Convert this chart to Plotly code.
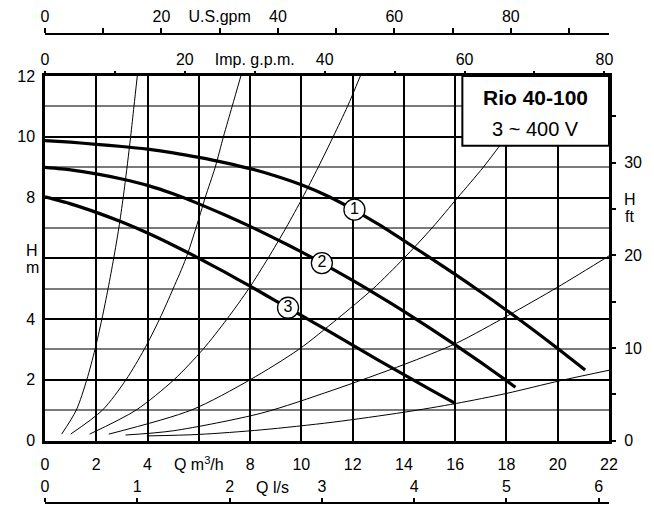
import plotly.graph_objects as go

# ---------------- data ----------------
# pump curves: Q [m3/h] , H [m]
q_curve1 = [0, 1, 2, 3, 4, 5, 6, 7, 8, 9, 10, 11, 12, 13, 14, 15, 16, 17, 18, 19, 20, 21.07]
h_curve1 = [9.87, 9.82, 9.75, 9.68, 9.59, 9.47, 9.32, 9.15, 8.95, 8.71, 8.42, 8.06, 7.62, 7.12,
            6.58, 6.03, 5.47, 4.89, 4.29, 3.67, 3.03, 2.32]
q_curve2 = [0, 1, 2, 3, 4, 5, 6, 7, 8, 9, 10, 11, 12, 13, 14, 15, 16, 17, 18, 18.35]
h_curve2 = [8.99, 8.91, 8.78, 8.61, 8.40, 8.12, 7.79, 7.43, 7.05, 6.64, 6.21, 5.75, 5.27, 4.77,
            4.25, 3.71, 3.15, 2.57, 1.97, 1.75]
q_curve3 = [0, 1, 2, 3, 4, 5, 6, 7, 8, 9, 10, 11, 12, 13, 14, 15, 16]
h_curve3 = [8.02, 7.79, 7.51, 7.19, 6.83, 6.43, 6.0, 5.55, 5.08, 4.6, 4.12, 3.63, 3.14, 2.65,
            2.17, 1.69, 1.22]

# system (resistance) curves
q_sysA = [0.65, 1.22, 1.63, 1.95, 2.22, 2.46, 2.68, 2.88, 3.05, 3.2, 3.34, 3.47, 3.6]
h_sysA = [0.21, 1, 2, 3, 4, 5, 6, 7, 8, 9, 10, 11, 12]
q_sysB = [1.0, 2.24, 3.16, 3.87, 4.47, 5.0, 5.5, 5.89, 6.25, 6.64, 6.96, 7.3, 7.64]
h_sysB = [0.21, 1, 2, 3, 4, 5, 6, 7, 8, 9, 10, 11, 12]
q_sysC = [1.74, 3.55, 5.03, 6.16, 7.1, 7.95, 8.7, 9.4, 10.05, 10.66, 11.24, 11.8, 12.3]
h_sysC = [0.21, 1, 2, 3, 4, 5, 6, 7, 8, 9, 10, 11, 12]
q_sysD = [2.49, 5.7, 8.0, 9.9, 11.4, 12.8, 14.0, 15.1, 16.1, 17.1, 18.0, 18.9, 19.8]
h_sysD = [0.21, 1, 2, 3, 4, 5, 6, 7, 8, 9, 10, 11, 12]
q_sysE = [3.14, 5.0, 8.44, 11.2, 14.0, 16.04, 18.07, 20.0, 22.1]
h_sysE = [0.18, 0.32, 0.9, 1.65, 2.5, 3.2, 4.12, 5.05, 6.13]
q_sysF = [3.97, 6.0, 8.44, 11.2, 14.0, 16.04, 18.0, 20.1, 22.1]
h_sysF = [0.15, 0.2, 0.35, 0.6, 0.93, 1.22, 1.55, 1.97, 2.33]

# curve number labels
label_text = ["1", "2", "3"]
label_q = [12.07, 10.8, 9.48]
label_h = [7.6, 5.84, 4.37]

# axis ticks
x_tickvals = [0, 2, 4, 6, 8, 10, 12, 14, 16, 18, 20, 22]
x_ticktext = ["0", "2", "4", "Q m<sup>3</sup>/h", "8", "10", "12", "14", "16", "18", "20", "22"]
y_tickvals = [0, 2, 4, 6, 8, 10, 12]
y_ticktext = ["0", "2", "4", "", "8", "10", "12"]
ft_tickvals = [0, 5, 10, 15, 20, 25, 30, 35]
ft_ticktext = ["0", "", "10", "", "20", "", "30", ""]
imp_tickvals = [0, 10, 20, 30, 40, 50, 60, 70, 80]
imp_ticktext = ["0", "", "20", "Imp. g.p.m.", "40", "", "60", "", "80"]
us_tickvals = [0, 10, 20, 30, 40, 50, 60, 70, 80, 90]
us_ticktext = ["0", "", "20", "U.S.gpm", "40", "", "60", "", "80", ""]
ls_tickvals = [0, 1, 2, 3, 4, 5, 6]
ls_ticktext = ["0", "1", "2", "3", "4", "5", "6"]

title_main = "Rio 40-100"
title_sub = "3 ~ 400 V"

# unit conversions
Q_MAX = 22.0
H_MAX = 12.0
IMP_PER_M3H = 1 / 0.272765
US_PER_M3H = 1 / 0.227125
LS_PER_M3H = 1 / 3.6
FT_PER_M = 1 / 0.3048

FONT = "Liberation Sans, Arial, Helvetica, sans-serif"

fig = go.Figure()

sys_curves = [(q_sysA, h_sysA), (q_sysB, h_sysB), (q_sysC, h_sysC),
              (q_sysD, h_sysD), (q_sysE, h_sysE), (q_sysF, h_sysF)]
for qs, hs in sys_curves:
    fig.add_trace(go.Scatter(x=qs, y=hs, mode="lines",
                             line=dict(color="black", width=1, shape="spline", smoothing=0.8),
                             hoverinfo="skip"))

for qs, hs in [(q_curve1, h_curve1), (q_curve2, h_curve2), (q_curve3, h_curve3)]:
    fig.add_trace(go.Scatter(x=qs, y=hs, mode="lines",
                             line=dict(color="black", width=3.2, shape="spline", smoothing=0.6),
                             hoverinfo="skip"))

fig.add_trace(go.Scatter(x=label_q, y=label_h, mode="markers+text", text=label_text,
                         textposition="middle center",
                         textfont=dict(family=FONT, size=16, color="black"),
                         marker=dict(size=21, color="white", line=dict(color="black", width=1.3)),
                         hoverinfo="skip"))

# invisible traces so the secondary axes are drawn
fig.add_trace(go.Scatter(x=[0], y=[0], xaxis="x2", yaxis="y2", mode="markers",
                         marker=dict(opacity=0), hoverinfo="skip"))
fig.add_trace(go.Scatter(x=[0], y=[0], xaxis="x3", yaxis="y", mode="markers",
                         marker=dict(opacity=0), hoverinfo="skip"))
fig.add_trace(go.Scatter(x=[0], y=[0], xaxis="x4", yaxis="y", mode="markers",
                         marker=dict(opacity=0), hoverinfo="skip"))

# page geometry: the figure sits 8 px from the page corner (body margin)
FIG_W, FIG_H = 646, 497
PLOT_L, PLOT_R = 37, 601
TOP_LINE, BOT_LINE = 26, 495
PLOT_TOP, PLOT_BOT = 68, 432.5
PH = BOT_LINE - TOP_LINE
y_dom = [(BOT_LINE - PLOT_BOT) / PH, (BOT_LINE - PLOT_TOP) / PH]

tickfont = dict(family=FONT, size=16, color="black")

fig.update_layout(
    width=FIG_W, height=FIG_H,
    margin=dict(l=PLOT_L, r=FIG_W - PLOT_R, t=TOP_LINE, b=FIG_H - BOT_LINE, pad=0, autoexpand=False),
    plot_bgcolor="white", paper_bgcolor="white",
    showlegend=False,
    font=dict(family=FONT, size=16, color="black"),
    xaxis=dict(range=[0, Q_MAX], domain=[0, 1], anchor="y", automargin=False,
               tickvals=x_tickvals, ticktext=x_ticktext, tickfont=tickfont,
               ticks="", ticklabelstandoff=8,
               showgrid=True, gridcolor="black", gridwidth=1.6,
               showline=True, linecolor="black", linewidth=2.5, mirror=True,
               zeroline=False, fixedrange=True),
    yaxis=dict(range=[0, H_MAX], domain=y_dom, anchor="x", automargin=False,
               tickvals=y_tickvals, ticktext=y_ticktext, tickfont=tickfont,
               ticks="", ticklabelstandoff=4,
               showgrid=True, gridcolor="black", gridwidth=1.6,
               minor=dict(dtick=1, tick0=0, showgrid=True, gridcolor="#7a7a7a", gridwidth=1.6, ticks=""),
               showline=True, linecolor="black", linewidth=2.5, mirror=True,
               zeroline=False, fixedrange=True),
    xaxis2=dict(range=[0, Q_MAX * IMP_PER_M3H], overlaying="x", anchor="y", side="top", automargin=False,
                tickvals=imp_tickvals, ticktext=imp_ticktext, tickfont=tickfont,
                ticks="outside", ticklen=4, tickwidth=1.5, tickcolor="black",
                showgrid=False, showline=False, zeroline=False),
    yaxis2=dict(range=[0, H_MAX * FT_PER_M], overlaying="y", anchor="x", side="right", automargin=False,
                tickvals=ft_tickvals, ticktext=ft_ticktext, tickfont=tickfont,
                ticks="outside", ticklen=6, tickwidth=1.5, tickcolor="black",
                ticklabelstandoff=5,
                showgrid=False, showline=False, zeroline=False),
    xaxis3=dict(range=[0, Q_MAX * US_PER_M3H], overlaying="x", anchor="free", position=1, side="top",
                automargin=False,
                tickvals=us_tickvals, ticktext=us_ticktext, tickfont=tickfont,
                ticks="outside", ticklen=5, tickwidth=1.5, tickcolor="black",
                showgrid=False, showline=True, linecolor="black", linewidth=2.2, zeroline=False),
    xaxis4=dict(range=[0, Q_MAX * LS_PER_M3H], overlaying="x", anchor="free", position=0, side="top",
                automargin=False,
                tickvals=ls_tickvals, ticktext=ls_ticktext, tickfont=tickfont,
                ticks="outside", ticklen=4, tickwidth=1.5, tickcolor="black",
                showgrid=False, showline=True, linecolor="black", linewidth=2.2, zeroline=False),
)

# white title box in the upper right corner
fig.add_shape(type="rect", xref="x", yref="y", x0=16.28, x1=Q_MAX, y0=9.7, y1=H_MAX,
              fillcolor="white", line=dict(color="black", width=2), layer="above")
fig.add_annotation(xref="x", yref="y", x=19.15, y=11.3, text="<b>" + title_main + "</b>",
                   showarrow=False, font=dict(family=FONT, size=21, color="black"))
fig.add_annotation(xref="x", yref="y", x=19.15, y=10.25, text=title_sub,
                   showarrow=False, font=dict(family=FONT, size=20, color="black"))

# axis titles
ann = dict(showarrow=False, font=tickfont, xanchor="center", yanchor="middle")
fig.add_annotation(xref="paper", yref="y", x=-0.023, y=6.27, text="H", **ann)
fig.add_annotation(xref="paper", yref="y", x=-0.023, y=5.71, text="m", **ann)
fig.add_annotation(xref="paper", yref="y", x=1.037, y=7.92, text="H", **ann)
fig.add_annotation(xref="paper", yref="y", x=1.037, y=7.39, text="ft", **ann)
fig.add_annotation(xref="x4", yref="paper", x=2.47, y=16 / PH, text="Q l/s", **ann)

fig.write_html("out.html")
